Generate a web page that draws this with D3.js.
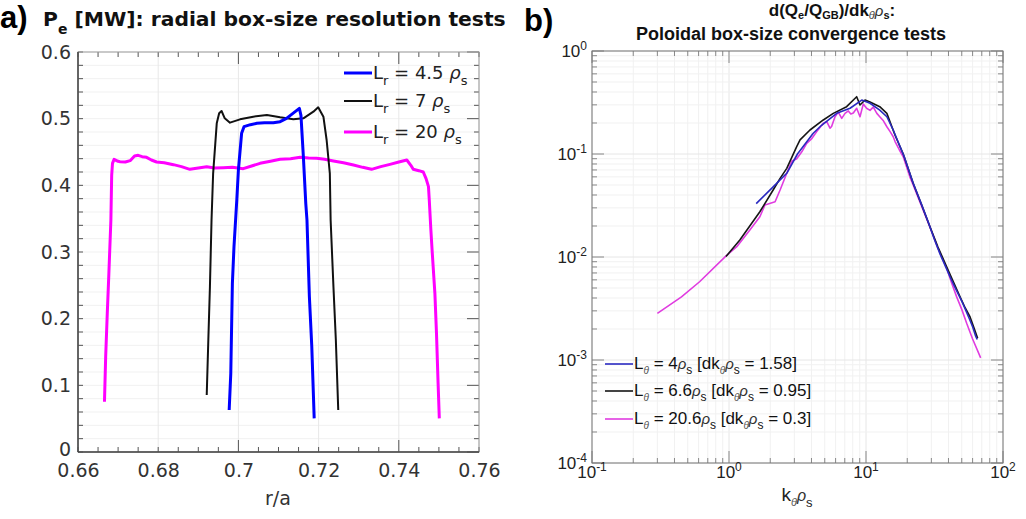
<!DOCTYPE html>
<html><head><meta charset="utf-8">
<script src="https://cdn.jsdelivr.net/npm/d3@7"></script>
<style>body{margin:0;background:#fff} svg{display:block} text{white-space:pre}</style>
</head><body>
<svg id="fig" width="1026" height="519"></svg>
<script>
// ---- Panel a: electron power P_e [MW] vs r/a for three radial box sizes ----
const rBlue = [0.6977,0.6981,0.6985,0.6989,0.6996,0.7000,0.7008,0.7014,0.7030,0.7046,0.7065,0.7087,0.7104,0.7120,0.7136,0.7152,0.7156,0.7162,0.7168,0.7171,0.7177,0.7183,0.7189];
const pBlue = [0.063,0.118,0.253,0.308,0.378,0.423,0.478,0.488,0.491,0.493,0.494,0.494,0.4955,0.5005,0.508,0.5155,0.505,0.443,0.373,0.348,0.233,0.158,0.0505];

const rBlack = [0.6921,0.6925,0.6929,0.6933,0.6937,0.6946,0.6952,0.6958,0.6966,0.6979,0.7004,0.7037,0.7071,0.7104,0.7137,0.7162,0.7187,0.7199,0.7212,0.7220,0.7228,0.7230,0.7237,0.7243,0.7249];
const pBlack = [0.0855,0.168,0.248,0.348,0.418,0.493,0.508,0.5115,0.5005,0.494,0.499,0.503,0.5055,0.502,0.499,0.5005,0.5105,0.517,0.503,0.468,0.418,0.348,0.248,0.168,0.063];

const rMag = [0.6666,0.6669,0.6673,0.6677,0.6682,0.6684,0.6686,0.6690,0.6700,0.6705,0.6718,0.6730,0.6741,0.6750,0.6760,0.6771,0.6783,0.6796,0.6815,0.6838,0.6858,0.6879,0.6900,0.6921,0.6940,0.6962,0.6985,0.7012,0.7033,0.7054,0.7080,0.7104,0.7130,0.7154,0.7175,0.7195,0.7215,0.7237,0.7262,0.7287,0.7310,0.7332,0.7355,0.7378,0.7400,0.7420,0.7430,0.7436,0.7450,0.7461,0.7468,0.7474,0.7476,0.7480,0.7483,0.7490,0.7494,0.7498,0.7501];
const pMag = [0.0755,0.143,0.208,0.268,0.348,0.415,0.433,0.439,0.436,0.4355,0.435,0.437,0.444,0.445,0.443,0.442,0.438,0.435,0.434,0.431,0.428,0.424,0.426,0.428,0.426,0.4265,0.427,0.425,0.429,0.433,0.436,0.439,0.440,0.442,0.441,0.4405,0.439,0.4365,0.434,0.4305,0.427,0.424,0.428,0.4315,0.435,0.438,0.430,0.424,0.422,0.420,0.410,0.398,0.378,0.333,0.303,0.238,0.178,0.103,0.0505];

const aXTicks = [0.66,0.68,0.70,0.72,0.74,0.76];
const aYTicks = [0,0.1,0.2,0.3,0.4,0.5,0.6];
const aLegend = ["4.5","7","20"];

// ---- Panel b: d(Q_e/Q_GB)/dk_theta rho_s spectra for three poloidal box sizes ----
const kBlue = [1.58,2.10,2.64,3.16,4.12,4.74,6.11,7.65,9.31,10.7,12.6,14.2,15.8,17.4,18.96,22.1,25.3,28.4,31.6,34.8,37.9,41.1,44.2,47.4,50.6,53.7,56.9,60.0,63.2,64.8];
const qBlue = [0.033,0.048,0.065,0.10,0.159,0.19,0.248,0.278,0.334,0.311,0.267,0.23,0.171,0.125,0.095,0.052,0.033,0.022,0.0148,0.0106,0.0082,0.0064,0.0052,0.0043,0.0036,0.0030,0.0025,0.0021,0.0017,0.00158];

const kBlack = [0.95,1.20,1.68,2.10,2.36,2.64,3.12,3.30,3.90,4.88,5.77,7.22,8.55,9.04,9.84,10.7,12.6,14.2,16.3,18.7,22.1,25.5,29.3,33.5,38.8,43.5,48.5,53.0,57.4,61.0,65.3];
const qBlack = [0.0101,0.0146,0.0275,0.0447,0.058,0.0726,0.118,0.137,0.171,0.214,0.248,0.288,0.36,0.299,0.334,0.32,0.288,0.248,0.152,0.10,0.052,0.032,0.0197,0.0125,0.00805,0.0057,0.00412,0.0032,0.00263,0.0021,0.00163];

const kMag = [0.30,0.45,0.61,0.94,1.14,1.42,1.68,1.83,2.17,2.36,2.64,2.87,3.12,3.40,3.69,4.0,4.37,4.88,5.17,5.46,5.61,5.94,6.28,6.65,7.03,7.43,7.75,8.08,8.55,9.04,9.55,10.1,10.7,11.3,12.0,12.6,13.4,14.2,15.0,15.8,16.3,17.5,18.7,20.9,22.1,25.5,29.3,33.5,38.8,42.0,45.9,50.0,54.3,60.0,68.7];
const qMag = [0.00284,0.0041,0.00575,0.0101,0.0126,0.0183,0.0246,0.032,0.0344,0.0447,0.065,0.085,0.09,0.105,0.127,0.14,0.165,0.199,0.206,0.178,0.185,0.23,0.255,0.222,0.248,0.262,0.245,0.25,0.278,0.23,0.305,0.278,0.265,0.285,0.248,0.23,0.21,0.184,0.165,0.147,0.132,0.11,0.094,0.06,0.05,0.031,0.0195,0.0122,0.0078,0.0057,0.0041,0.0031,0.00227,0.0016,0.00105];

const bXTicks = [0.1,1,10,100];
const bYTicks = [1e-4,1e-3,1e-2,1e-1,1];
const bLegend = [["4","1.58"],["6.6","0.95"],["20.6","0.3"]];

const svg = d3.select('#fig');
svg.append('rect').attr('width',1026).attr('height',519).attr('fill','#fff');

// text with sub/superscript segments
function rich(g, x, y, parts, o = {}) {
  const t = g.append('text').attr('x', x).attr('y', y)
    .attr('font-family', o.family || 'DejaVu Sans')
    .attr('font-size', o.size || 18)
    .attr('font-weight', o.weight || 'normal')
    .attr('fill', o.fill || '#000')
    .attr('text-anchor', o.anchor || 'start');
  let cur = 0;
  parts.forEach(p => {
    const s = typeof p === 'string' ? { t: p } : p;
    const off = s.off || 0;
    const ts = t.append('tspan').text(s.t).attr('dy', off - cur);
    cur = off;
    if (s.size) ts.attr('font-size', s.size);
    if (s.it) ts.attr('font-style', 'italic');
    if (s.weight) ts.attr('font-weight', s.weight);
    if (s.family) ts.attr('font-family', s.family);
    if (s.fill) ts.attr('fill', s.fill);
  });
  return t;
}

// ================= Panel a =================
const ga = svg.append('g');
const xa = d3.scaleLinear().domain([0.66, 0.76]).range([78, 479]);
const ya = d3.scaleLinear().domain([0, 0.6]).range([452, 52]);

// faint grid
ga.append('g').selectAll('line').data(d3.range(0, 31).map(i => i * 0.02)).join('line')
  .attr('x1', 78).attr('x2', 479).attr('y1', d => ya(d)).attr('y2', d => ya(d))
  .attr('stroke', '#f1f1f1').attr('stroke-width', 1);
ga.append('g').selectAll('line').data(aXTicks).join('line')
  .attr('x1', d => xa(d)).attr('x2', d => xa(d)).attr('y1', 52).attr('y2', 452)
  .attr('stroke', '#e8e8e8').attr('stroke-width', 1);

// ticks (inward)
const axCol = '#555';
const xMinor = d3.range(0, 21).map(i => 0.66 + i * 0.005);
const xLong = v => Math.abs(v - 0.70) < 1e-6 || Math.abs(v - 0.74) < 1e-6;
ga.append('g').selectAll('line').data(xMinor).join('line')
  .attr('x1', d => xa(d)).attr('x2', d => xa(d)).attr('y1', 452).attr('y2', d => 452 - (xLong(d) ? 12 : 5))
  .attr('stroke', axCol);
ga.append('g').selectAll('line').data(xMinor).join('line')
  .attr('x1', d => xa(d)).attr('x2', d => xa(d)).attr('y1', 52).attr('y2', d => 52 + (xLong(d) ? 12 : 5))
  .attr('stroke', axCol);
const yMinor = d3.range(0, 31).map(i => i * 0.02);
ga.append('g').selectAll('line').data(yMinor).join('line')
  .attr('x1', 78).attr('x2', 83).attr('y1', d => ya(d)).attr('y2', d => ya(d)).attr('stroke', axCol);
ga.append('g').selectAll('line').data(yMinor).join('line')
  .attr('x1', 479).attr('x2', d => 479 - (Math.abs(d * 10 - Math.round(d * 10)) < 1e-6 ? 12 : 5))
  .attr('y1', d => ya(d)).attr('y2', d => ya(d)).attr('stroke', axCol);

ga.append('rect').attr('x', 78).attr('y', 52).attr('width', 401).attr('height', 400)
  .attr('fill', 'none').attr('stroke', '#999').attr('stroke-width', 1);
ga.append('line').attr('x1', 78).attr('x2', 78).attr('y1', 52).attr('y2', 452).attr('stroke', '#444').attr('stroke-width', 1.5);
ga.append('line').attr('x1', 78).attr('x2', 479).attr('y1', 452).attr('y2', 452).attr('stroke', '#444').attr('stroke-width', 1.5);

const fmtA = d => String(+d.toFixed(2));
const axA = ga.append('g').attr('transform', 'translate(0,452)')
  .call(d3.axisBottom(xa).tickValues(aXTicks).tickFormat(fmtA).tickSize(0).tickPadding(12));
const ayA = ga.append('g').attr('transform', 'translate(78,0)')
  .call(d3.axisLeft(ya).tickValues(aYTicks).tickFormat(fmtA).tickSize(0).tickPadding(7));
[axA, ayA].forEach(g => {
  g.select('.domain').remove();
  g.selectAll('text').attr('font-family', 'DejaVu Sans').attr('font-size', 19).attr('fill', '#333');
});
// keep the zero label clear of the first x label
ayA.selectAll('.tick').filter(d => d === 0).select('text').attr('dy', '0.2em');

const lineA = d3.line().x(d => xa(d[0])).y(d => ya(d[1]));
const seriesA = [
  { r: rMag, p: pMag, c: '#ff00ff', w: 3 },
  { r: rBlack, p: pBlack, c: '#111', w: 2 },
  { r: rBlue, p: pBlue, c: '#0000ff', w: 3 }
];
seriesA.forEach(s => {
  ga.append('path').datum(d3.zip(s.r, s.p)).attr('d', lineA)
    .attr('fill', 'none').attr('stroke', s.c).attr('stroke-width', s.w).attr('stroke-linejoin', 'round');
});

// legend a
const legA = [{ c: '#0000ff', w: 3 }, { c: '#111', w: 2 }, { c: '#ff00ff', w: 3 }];
const legAY = [73, 101, 132];
legA.forEach((s, i) => {
  ga.append('line').attr('x1', 344).attr('x2', 372).attr('y1', legAY[i]).attr('y2', legAY[i])
    .attr('stroke', s.c).attr('stroke-width', s.w);
  rich(ga, 373, legAY[i] + 6, ['L', { t: 'r', off: 6, size: 13 }, ' = ' + aLegend[i] + ' ', { t: 'ρ', it: true }, { t: 's', off: 6, size: 13 }],
    { size: 18, fill: '#222' });
});

// x label a
ga.append('text').attr('x', 278).attr('y', 505).attr('text-anchor', 'middle')
  .attr('font-family', 'DejaVu Sans').attr('font-size', 19).attr('fill', '#333').text('r/a');

// title a
svg.append('text').attr('x', 0).attr('y', 28).attr('font-family', 'Liberation Sans')
  .attr('font-weight', 'bold').attr('font-size', 31).text('a)');
rich(svg, 43, 26, ['P', { t: 'e', off: 8, size: 14 }, ' [MW]: radial box-size resolution tests'],
  { size: 20.3, weight: 'bold', fill: '#111' });

// ================= Panel b =================
const gb = svg.append('g');
const xb = d3.scaleLog().domain([0.1, 100]).range([592, 1003]);
const yb = d3.scaleLog().domain([1e-4, 1]).range([463, 51]);

const logMinor = (lo, hi) => {
  const out = [];
  for (let e = lo; e < hi; e++) for (let m = 1; m < 10; m++) out.push(m * Math.pow(10, e));
  out.push(Math.pow(10, hi));
  return out;
};
const bxAll = logMinor(-1, 2);
const byAll = logMinor(-4, 0);
const isMajor = v => Math.abs(Math.log10(v) - Math.round(Math.log10(v))) < 1e-9;

// grid
gb.append('g').selectAll('line').data(bxAll).join('line')
  .attr('x1', d => xb(d)).attr('x2', d => xb(d)).attr('y1', 51).attr('y2', 463)
  .attr('stroke', d => isMajor(d) ? '#e6e6e6' : '#f1f1f1');
gb.append('g').selectAll('line').data(byAll).join('line')
  .attr('x1', 592).attr('x2', 1003).attr('y1', d => yb(d)).attr('y2', d => yb(d))
  .attr('stroke', d => isMajor(d) ? '#e6e6e6' : '#f1f1f1');

const bCol = '#888';
gb.append('g').selectAll('line').data(bxAll).join('line')
  .attr('x1', d => xb(d)).attr('x2', d => xb(d)).attr('y1', 463).attr('y2', d => 463 - (isMajor(d) ? 12 : 5)).attr('stroke', bCol);
gb.append('g').selectAll('line').data(bxAll).join('line')
  .attr('x1', d => xb(d)).attr('x2', d => xb(d)).attr('y1', 51).attr('y2', d => 51 + (isMajor(d) ? 12 : 5)).attr('stroke', bCol);
gb.append('g').selectAll('line').data(byAll).join('line')
  .attr('x1', 592).attr('x2', d => 592 + (isMajor(d) ? 12 : 5)).attr('y1', d => yb(d)).attr('y2', d => yb(d)).attr('stroke', bCol);
gb.append('g').selectAll('line').data(byAll).join('line')
  .attr('x1', 1003).attr('x2', d => 1003 - (isMajor(d) ? 12 : 5)).attr('y1', d => yb(d)).attr('y2', d => yb(d)).attr('stroke', bCol);
gb.append('rect').attr('x', 592).attr('y', 51).attr('width', 411).attr('height', 412)
  .attr('fill', 'none').attr('stroke', '#777').attr('stroke-width', 1);

// log tick labels 10^n
const bFont = 'Liberation Sans';
bXTicks.forEach(v => {
  const e = Math.round(Math.log10(v));
  rich(gb, xb(v), 478, ['10', { t: String(e), off: -7, size: 12 }], { family: bFont, size: 17, fill: '#222', anchor: 'middle' });
});
bYTicks.forEach(v => {
  const e = Math.round(Math.log10(v));
  rich(gb, 587, yb(v) + 6, ['10', { t: String(e), off: -7, size: 12 }], { family: bFont, size: 17, fill: '#222', anchor: 'end' });
});

const lineB = d3.line().x(d => xb(d[0])).y(d => yb(d[1]));
const seriesB = [
  { k: kMag, q: qMag, c: '#e03ce0' },
  { k: kBlack, q: qBlack, c: '#161616' },
  { k: kBlue, q: qBlue, c: '#2a2ac0' }
];
seriesB.forEach(s => {
  gb.append('path').datum(d3.zip(s.k, s.q)).attr('d', lineB)
    .attr('fill', 'none').attr('stroke', s.c).attr('stroke-width', 1.6).attr('stroke-linejoin', 'round');
});

// legend b
const legBCol = ['#2a2ac0', '#161616', '#e03ce0'];
const legBY = [364, 391, 419];
bLegend.forEach((d, i) => {
  gb.append('line').attr('x1', 605).attr('x2', 633).attr('y1', legBY[i]).attr('y2', legBY[i])
    .attr('stroke', legBCol[i]).attr('stroke-width', 1.6);
  rich(gb, 634, legBY[i] + 5, [
    'L', { t: 'θ', it: true, off: 5, size: 10, fill: '#555' }, ' = ' + d[0],
    { t: 'ρ', it: true, size: 15, fill: '#333' }, { t: 's', off: 5, size: 12 },
    ' [dk', { t: 'θ', it: true, off: 5, size: 10, fill: '#555' },
    { t: 'ρ', it: true, size: 15, fill: '#333' }, { t: 's', off: 5, size: 12 },
    ' = ' + d[1] + ']'
  ], { family: bFont, size: 17, fill: '#111' });
});

// x label b
rich(gb, 797, 501, ['k', { t: 'θ', it: true, off: 5, size: 11, fill: '#555' },
  { t: 'ρ', it: true, size: 16, fill: '#333' }, { t: 's', off: 6, size: 13 }],
  { family: bFont, size: 19, fill: '#222', anchor: 'middle' });

// titles b
svg.append('text').attr('x', 524).attr('y', 31).attr('font-family', 'Liberation Sans')
  .attr('font-weight', 'bold').attr('font-size', 31).text('b)');
rich(svg, 832, 16, ['d(Q', { t: 'e', off: 3, size: 11 }, '/Q', { t: 'GB', off: 3, size: 11 }, ')/dk',
  { t: 'θ', it: true, off: 3, size: 11, weight: 'normal', fill: '#444' },
  { t: 'ρ', it: true, size: 15, weight: 'normal', fill: '#333' }, { t: 's', off: 3, size: 11 }, ':'],
  { family: bFont, size: 17, weight: 'bold', fill: '#111', anchor: 'middle' });
svg.append('text').attr('x', 791).attr('y', 40).attr('text-anchor', 'middle')
  .attr('font-family', bFont).attr('font-weight', 'bold').attr('font-size', 18).attr('fill', '#111')
  .text('Poloidal box-size convergence tests');
</script>
</body></html>
